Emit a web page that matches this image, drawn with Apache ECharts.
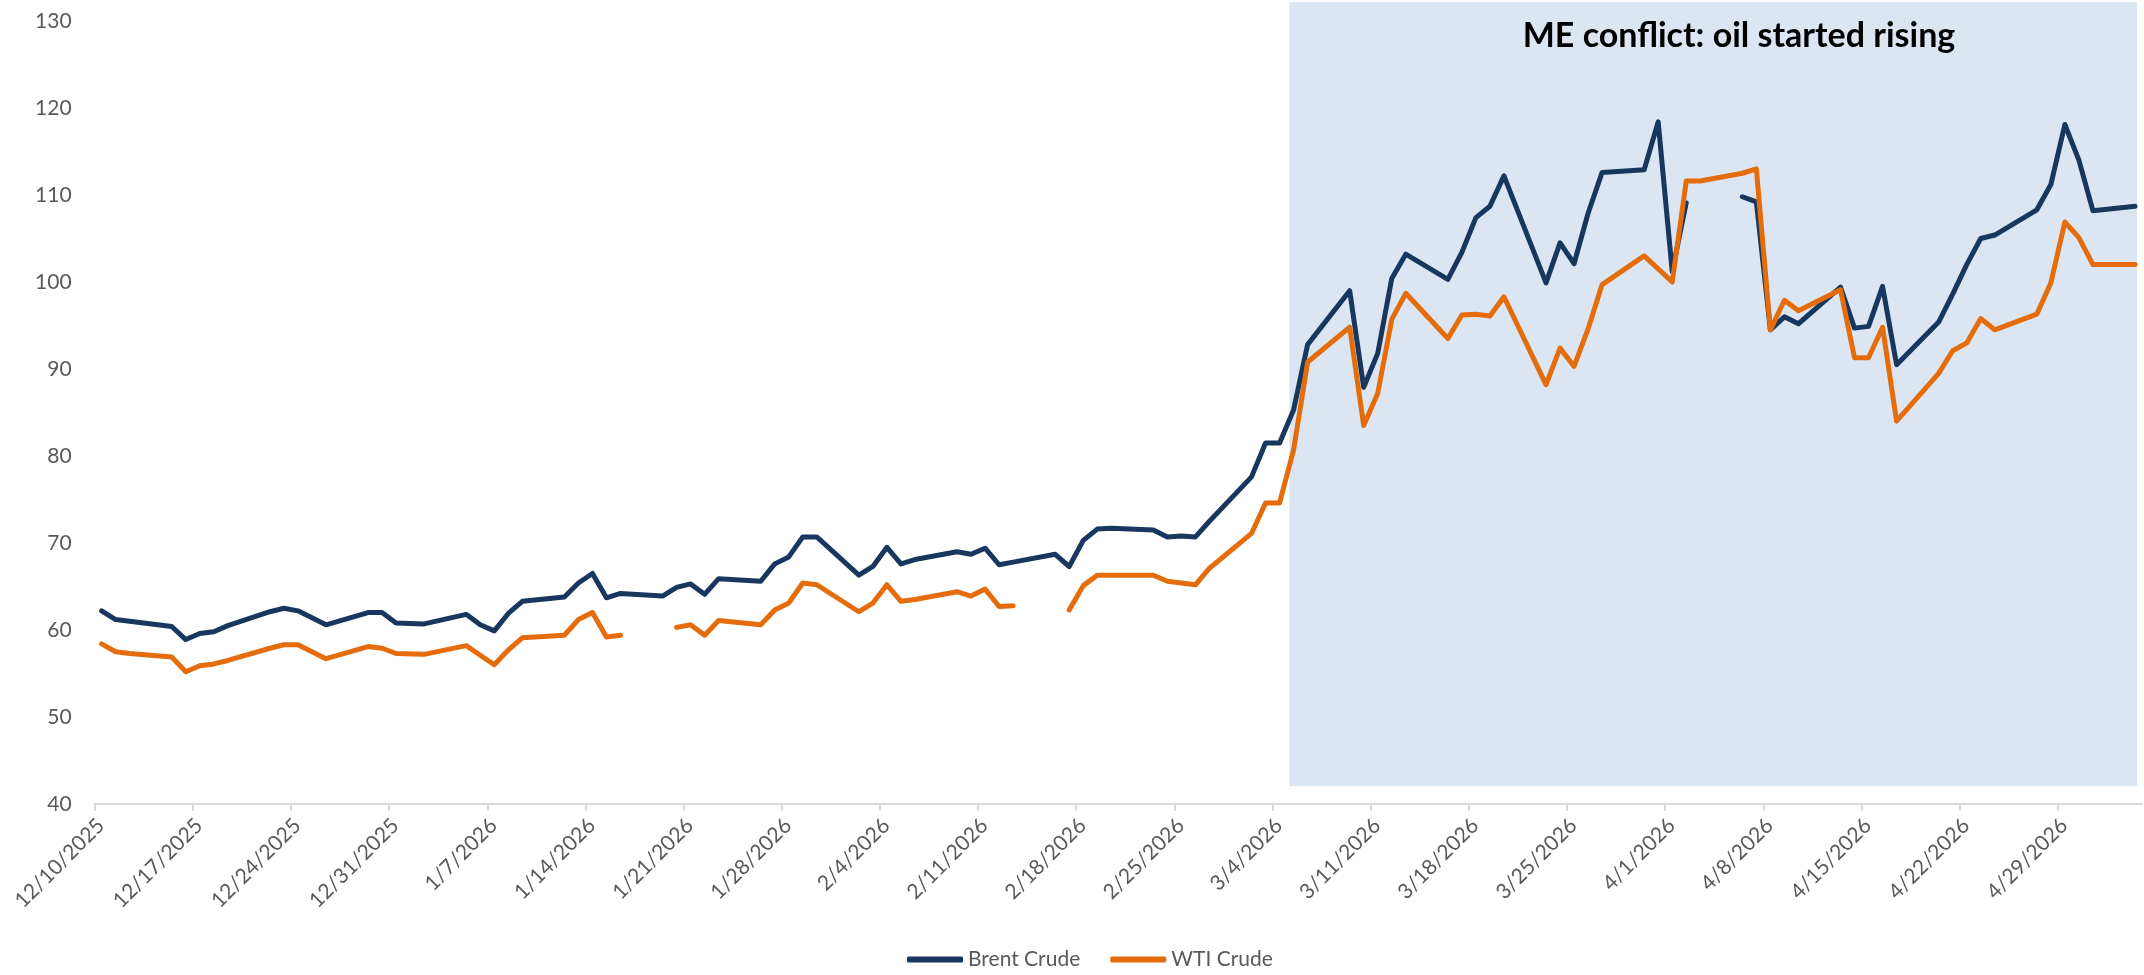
<!DOCTYPE html>
<html><head><meta charset="utf-8">
<script src="https://cdn.jsdelivr.net/npm/echarts@6/dist/echarts.min.js"></script>
<style>html,body{margin:0;padding:0;background:#fff}#c{width:2144px;height:975px}</style>
</head><body><div id="c"></div>
<script>
// ---- data ----
const dates = [
 '2025-12-10','2025-12-11','2025-12-12','2025-12-15','2025-12-16','2025-12-17','2025-12-18','2025-12-19',
 '2025-12-22','2025-12-23','2025-12-24','2025-12-26','2025-12-29','2025-12-30','2025-12-31',
 '2026-01-02','2026-01-05','2026-01-06','2026-01-07','2026-01-08','2026-01-09','2026-01-12','2026-01-13',
 '2026-01-14','2026-01-15','2026-01-16','2026-01-19','2026-01-20','2026-01-21','2026-01-22','2026-01-23',
 '2026-01-26','2026-01-27','2026-01-28','2026-01-29','2026-01-30',
 '2026-02-02','2026-02-03','2026-02-04','2026-02-05','2026-02-06','2026-02-09','2026-02-10','2026-02-11',
 '2026-02-12','2026-02-13','2026-02-16','2026-02-17','2026-02-18','2026-02-19','2026-02-20',
 '2026-02-23','2026-02-24','2026-02-25','2026-02-26','2026-02-27',
 '2026-03-02','2026-03-03','2026-03-04','2026-03-05','2026-03-06','2026-03-09','2026-03-10','2026-03-11',
 '2026-03-12','2026-03-13','2026-03-16','2026-03-17','2026-03-18','2026-03-19','2026-03-20',
 '2026-03-23','2026-03-24','2026-03-25','2026-03-26','2026-03-27','2026-03-30','2026-03-31',
 '2026-04-01','2026-04-02','2026-04-03','2026-04-06','2026-04-07','2026-04-08','2026-04-09','2026-04-10',
 '2026-04-13','2026-04-14','2026-04-15','2026-04-16','2026-04-17','2026-04-20','2026-04-21','2026-04-22',
 '2026-04-23','2026-04-24','2026-04-27','2026-04-28','2026-04-29','2026-04-30','2026-05-01','2026-05-04'
];
const brent = [
 62.2,61.2,61.0,60.4,58.9,59.6,59.8,60.5,62.1,62.5,62.2,60.6,62.0,62.0,60.8,
 60.7,61.8,60.6,59.9,61.9,63.3,63.8,65.4,66.5,63.7,64.2,63.9,64.9,65.3,64.1,65.9,
 65.6,67.6,68.4,70.7,70.7,
 66.3,67.3,69.5,67.6,68.1,69.0,68.7,69.4,67.5,67.8,68.7,67.3,70.3,71.6,71.7,
 71.5,70.7,70.8,70.7,72.5,
 77.6,81.5,81.5,85.3,92.8,99.0,87.9,91.8,100.4,103.2,
 100.3,103.4,107.4,108.7,112.2,99.9,104.5,102.1,107.9,112.6,
 112.9,118.4,101.2,109.1,null,109.8,109.2,94.5,96.0,95.2,
 99.4,94.7,94.9,99.5,90.5,95.4,98.6,102.0,105.0,105.4,
 108.3,111.2,118.1,114.0,108.2,108.7
];
const wti = [
 58.4,57.5,57.3,56.9,55.2,55.9,56.1,56.5,57.9,58.3,58.3,56.7,58.1,57.9,57.3,
 57.2,58.2,57.1,56.0,57.7,59.1,59.4,61.2,62.0,59.2,59.4,null,60.3,60.6,59.4,61.1,
 60.6,62.3,63.1,65.4,65.2,
 62.1,63.1,65.2,63.3,63.5,64.4,63.9,64.7,62.7,62.8,null,62.3,65.1,66.3,66.3,
 66.3,65.6,65.4,65.2,67.1,
 71.1,74.6,74.6,80.7,90.8,94.8,83.5,87.2,95.7,98.7,
 93.5,96.2,96.3,96.1,98.3,88.2,92.4,90.3,94.6,99.7,
 103.0,101.5,100.0,111.6,111.6,112.5,113.0,94.5,97.9,96.7,
 99.1,91.3,91.3,94.8,84.0,89.5,92.1,93.0,95.8,94.5,
 96.3,99.9,106.9,105.1,102.0,102.0
];
const xTickLabels = ['12/10/2025','12/17/2025','12/24/2025','12/31/2025','1/7/2026','1/14/2026','1/21/2026',
 '1/28/2026','2/4/2026','2/11/2026','2/18/2026','2/25/2026','3/4/2026','3/11/2026','3/18/2026','3/25/2026',
 '4/1/2026','4/8/2026','4/15/2026','4/22/2026','4/29/2026'];
const seriesNames = ['Brent Crude','WTI Crude'];
const yMin = 40, yMax = 130, yStep = 10;
const axisStart = '2025-12-10', axisEnd = '2026-05-05';
const shadeFrom = '2026-03-05', shadeTo = '2026-05-04';
const annotation = 'ME conflict: oil started rising';

// ---- helpers ----
const DAY = 86400000;
const [oy, om, od] = axisStart.split('-').map(Number);
const origin = Date.UTC(oy, om - 1, od);
function isoIndex(s){ const [y,m,d] = s.split('-').map(Number); return (Date.UTC(y,m-1,d) - origin) / DAY; }
function mdyIndex(s){ const [m,d,y] = s.split('/').map(Number); return (Date.UTC(y,m-1,d) - origin) / DAY; }
const xs = dates.map(d => isoIndex(d) + 0.5);
const axisMax = isoIndex(axisEnd);
const tickVals = xTickLabels.map(mdyIndex);
const labelVals = tickVals.map(v => v + 0.45);
const FONT = 'Lato';

const chart = echarts.init(document.getElementById('c'), null, {renderer: 'canvas'});
chart.setOption({
  animation: false,
  backgroundColor: '#ffffff',
  title: {
    text: annotation, left: 1734, top: 14, textAlign: 'center',
    textStyle: {fontFamily: FONT, fontWeight: 'bold', fontSize: 34, color: '#000000'}
  },
  legend: {
    data: seriesNames, left: 902, top: 944, itemWidth: 56, itemHeight: 6, itemGap: 30,
    icon: 'roundRect', textStyle: {color: '#595959', fontFamily: FONT, fontSize: 21}
  },
  grid: [
    {left: 94.6, right: 2, top: 21, bottom: 171, outerBoundsMode: 'none'},
    {left: 94.6, right: 2, top: 2, bottom: 189, outerBoundsMode: 'none'}
  ],
  xAxis: [
    {
      type: 'value', gridIndex: 0, min: 0, max: axisMax,
      axisLine: {show: true, onZero: false, lineStyle: {color: '#D9D9D9', width: 2}},
      axisTick: {show: true, customValues: tickVals, length: 7, lineStyle: {color: '#D9D9D9', width: 2}},
      axisLabel: {
        customValues: labelVals, rotate: 45, margin: 18, color: '#595959', fontFamily: FONT, fontSize: 21,
        formatter: function (v) {
          const i = labelVals.findIndex(t => Math.abs(t - v) < 1e-6);
          return i >= 0 ? xTickLabels[i] : '';
        }
      },
      splitLine: {show: false}
    },
    {type: 'value', gridIndex: 1, min: 0, max: axisMax, show: false}
  ],
  yAxis: [
    {
      type: 'value', gridIndex: 0, min: yMin, max: yMax, interval: yStep,
      axisLine: {show: false}, axisTick: {show: false}, splitLine: {show: false},
      axisLabel: {margin: 23, color: '#595959', fontFamily: FONT, fontSize: 21}
    },
    {type: 'value', gridIndex: 1, min: 0, max: 1, show: false}
  ],
  series: [
    {
      name: 'shade', type: 'line', xAxisIndex: 1, yAxisIndex: 1, silent: true, z: 1,
      data: [[isoIndex(shadeFrom) + 0.2, 1], [isoIndex(shadeTo) + 0.65, 1]],
      symbol: 'none', lineStyle: {width: 0}, areaStyle: {color: '#DCE6F2', opacity: 1}
    },
    {
      name: seriesNames[0], type: 'line', xAxisIndex: 0, yAxisIndex: 0, z: 3,
      data: xs.map((x, i) => [x, brent[i]]), symbol: 'none', showSymbol: false, connectNulls: false,
      lineStyle: {color: '#17375E', width: 5, cap: 'round', join: 'round'}, itemStyle: {color: '#17375E'}
    },
    {
      name: seriesNames[1], type: 'line', xAxisIndex: 0, yAxisIndex: 0, z: 3,
      data: xs.map((x, i) => [x, wti[i]]), symbol: 'none', showSymbol: false, connectNulls: false,
      lineStyle: {color: '#E46C0A', width: 5, cap: 'round', join: 'round'}, itemStyle: {color: '#E46C0A'}
    }
  ]
});
</script></body></html>
